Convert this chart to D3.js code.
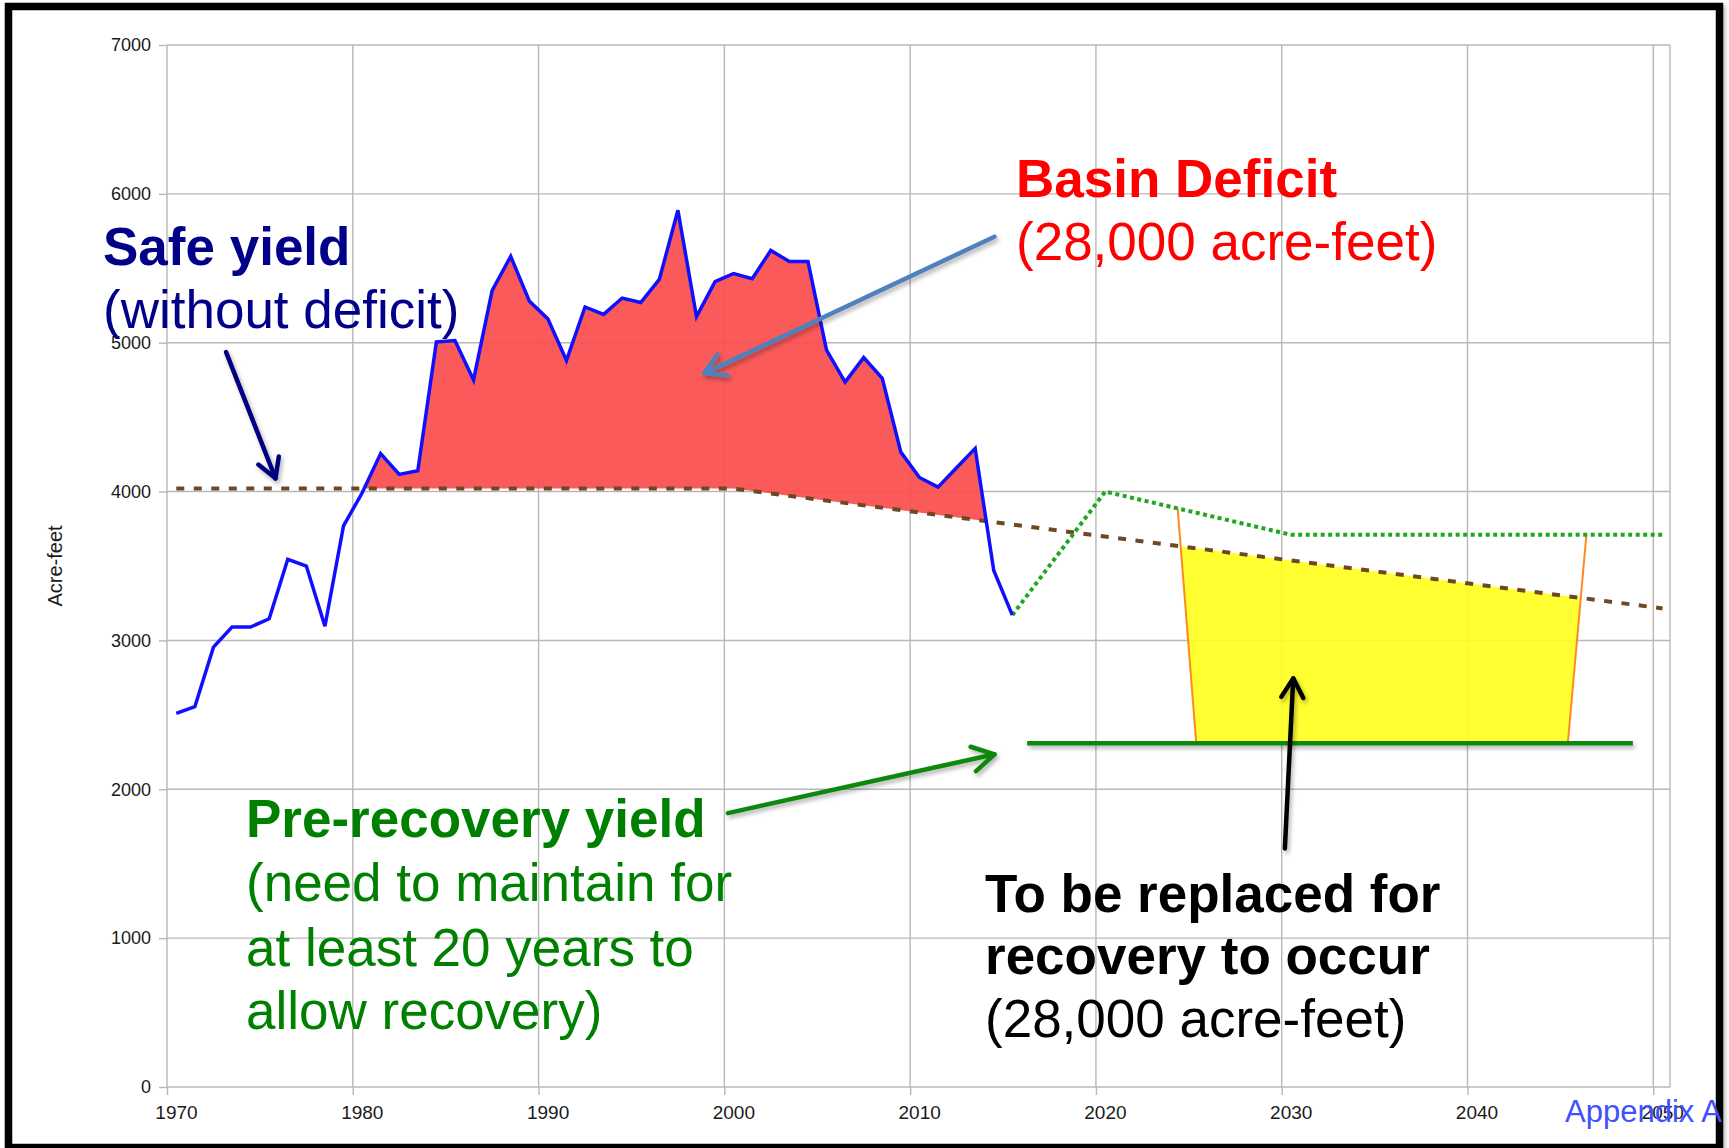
<!DOCTYPE html>
<html>
<head>
<meta charset="utf-8">
<style>
  body {
    margin: 0;
    background: #fff;
    font-family: "Liberation Sans", Arial, sans-serif;
  }
  svg { display: block; }
  .grid line {
    stroke: #b8b8b8;
    stroke-width: 1.4px;
  }
</style>
</head>
<body>
<svg width="1729" height="1148"></svg>
<script src="https://cdn.jsdelivr.net/npm/d3@7"></script>
<script>
// historical pumping, acre-feet (plotted at mid-year)
var histYears = [1970, 1971, 1972, 1973, 1974, 1975, 1976, 1977, 1978, 1979,
                 1980, 1981, 1982, 1983, 1984, 1985, 1986, 1987, 1988, 1989,
                 1990, 1991, 1992, 1993, 1994, 1995, 1996, 1997, 1998, 1999,
                 2000, 2001, 2002, 2003, 2004, 2005, 2006, 2007, 2008, 2009,
                 2010, 2011, 2012, 2013, 2014, 2015];
var histValues = [2510, 2555, 2955, 3090, 3090, 3145, 3545, 3500, 3095, 3770,
                  3990, 4255, 4115, 4140, 5005, 5015, 4750, 5350, 5580, 5280,
                  5160, 4880, 5240, 5190, 5300, 5270, 5425, 5890, 5175, 5410,
                  5465, 5430, 5620, 5545, 5545, 4950, 4735, 4900, 4760, 4265,
                  4095, 4030, 4160, 4290, 3470, 3170];

// safe yield (brown dashed)
var safeYears = [1970, 2000, 2050];
var safeValues = [4020, 4020, 3215];

// projected pumping (green dotted)
var projYears = [2015, 2020, 2030, 2050];
var projValues = [3170, 4000, 3710, 3710];

// pre-recovery yield (green solid)
var preYears = [2015.8, 2048.4];
var preValue = 2310;

// replacement zone edges: top year (on projection), safe-yield year, bottom year
var replaceLeft = [2023.9, 2024.1, 2024.9];
var replaceRight = [2045.9, 2045.55, 2044.9];

var xTicks = [1970, 1980, 1990, 2000, 2010, 2020, 2030, 2040, 2050];
var yTicks = [0, 1000, 2000, 3000, 4000, 5000, 6000, 7000];

var svg = d3.select("svg");

var x = d3.scaleLinear().domain([1970, 2050.9]).range([167, 1670]);
var y = d3.scaleLinear().domain([0, 7000]).range([1087, 45]);
var mid = 0.5;
function px(yr) { return x(yr + mid); }

var safeAt = d3.scaleLinear().domain(safeYears).range(safeValues);
var projAt = d3.scaleLinear().domain(projYears).range(projValues);

var defs = svg.append("defs");
var shadow = defs.append("filter").attr("id", "shadow")
    .attr("filterUnits", "userSpaceOnUse")
    .attr("x", 0).attr("y", 0).attr("width", 1729).attr("height", 1148);
shadow.append("feDropShadow").attr("dx", 2).attr("dy", 3).attr("stdDeviation", 2)
    .attr("flood-color", "#000").attr("flood-opacity", 0.3);

// frame
svg.append("rect")
    .attr("x", 8.5).attr("y", 6.5).attr("width", 1711).attr("height", 1141)
    .attr("fill", "#fff").attr("stroke", "#000").attr("stroke-width", 7.5)
    .attr("filter", "url(#shadow)");

// grid
var grid = svg.append("g").attr("class", "grid");
grid.selectAll(".h").data(yTicks).enter().append("line")
    .attr("x1", x(1970)).attr("x2", x.range()[1])
    .attr("y1", function(d) { return y(d); }).attr("y2", function(d) { return y(d); });
grid.selectAll(".v").data(xTicks.concat([x.domain()[1]])).enter().append("line")
    .attr("x1", function(d) { return x(d); }).attr("x2", function(d) { return x(d); })
    .attr("y1", y(0)).attr("y2", y(7000));

// axes
var yAxis = svg.append("g")
    .attr("transform", "translate(" + x(1970) + ",0)")
    .call(d3.axisLeft(y).tickValues(yTicks).tickSize(8).tickPadding(8).tickFormat(d3.format("d")));
yAxis.select(".domain").remove();
yAxis.attr("font-family", "'Liberation Sans', Arial, sans-serif").attr("font-size", 18);
yAxis.selectAll("line").attr("stroke", "#b8b8b8").attr("stroke-width", 1.4);
yAxis.selectAll("text").attr("fill", "#1a1a1a");

var xAxis = svg.append("g")
    .attr("transform", "translate(0," + y(0) + ")")
    .call(d3.axisBottom(x).tickValues(xTicks).tickSize(8).tickPadding(11).tickFormat(d3.format("d")));
xAxis.select(".domain").remove();
xAxis.attr("font-family", "'Liberation Sans', Arial, sans-serif").attr("font-size", 19);
xAxis.selectAll("line").attr("stroke", "#b8b8b8").attr("stroke-width", 1.4);
xAxis.selectAll("text").attr("fill", "#1a1a1a").attr("dx", 9);

svg.append("text")
    .attr("transform", "translate(62," + y(3500) + ") rotate(-90)")
    .attr("text-anchor", "middle")
    .attr("font-size", 20)
    .attr("fill", "#1a1a1a")
    .text("Acre-feet");

// basin deficit: area under history clipped to above safe yield
var hist = histYears.map(function(d, i) { return [d, histValues[i]]; });
var safe = safeYears.map(function(d, i) { return [d, safeValues[i]]; });
var proj = projYears.map(function(d, i) { return [d, projValues[i]]; });

defs.append("clipPath").attr("id", "aboveSafe")
  .append("path")
    .attr("d", d3.area()
        .x(function(d) { return px(d[0]); })
        .y0(y(7000))
        .y1(function(d) { return y(d[1]); })(safe));

svg.append("path")
    .attr("clip-path", "url(#aboveSafe)")
    .attr("fill", "rgb(250,78,78)")
    .attr("fill-opacity", 0.93)
    .attr("d", d3.area()
        .x(function(d) { return px(d[0]); })
        .y0(y(0))
        .y1(function(d) { return y(d[1]); })(hist));

// replacement zone (yellow)
var zone = [
  [replaceLeft[1], safeAt(replaceLeft[1])],
  [replaceRight[1], safeAt(replaceRight[1])],
  [replaceRight[2], preValue],
  [replaceLeft[2], preValue]
];
svg.append("path")
    .attr("fill", "rgb(255,255,27)")
    .attr("fill-opacity", 0.9)
    .attr("d", d3.line()
        .x(function(d) { return px(d[0]); })
        .y(function(d) { return y(d[1]); })(zone) + "Z");

[replaceLeft, replaceRight].forEach(function(e) {
  svg.append("line")
      .attr("x1", px(e[0])).attr("y1", y(projAt(e[0])))
      .attr("x2", px(e[2])).attr("y2", y(preValue))
      .attr("stroke", "#ff8a1c").attr("stroke-width", 2);
});

var line = d3.line()
    .x(function(d) { return px(d[0]); })
    .y(function(d) { return y(d[1]); });

// safe yield
svg.append("path")
    .attr("d", line(safe))
    .attr("fill", "none").attr("stroke", "#6f4722")
    .attr("stroke-width", 4).attr("stroke-dasharray", "8,9.5");

// projection
svg.append("path")
    .attr("d", line(proj))
    .attr("fill", "none").attr("stroke", "#1fa81f")
    .attr("stroke-width", 4).attr("stroke-dasharray", "4,3.5");

// history
svg.append("path")
    .attr("d", line(hist))
    .attr("fill", "none").attr("stroke", "#1010ff")
    .attr("stroke-width", 3.5).attr("stroke-linejoin", "miter");

// pre-recovery yield
svg.append("line")
    .attr("x1", px(preYears[0])).attr("x2", px(preYears[1]))
    .attr("y1", y(preValue)).attr("y2", y(preValue))
    .attr("stroke", "#0b870b").attr("stroke-width", 4.5)
    .attr("filter", "url(#shadow)");

// arrows (data coordinates)
function arrow(from, to, color, head) {
  var x1 = x(from[0]), y1 = y(from[1]), x2 = x(to[0]), y2 = y(to[1]);
  var a = Math.atan2(y2 - y1, x2 - x1), s = Math.PI / 6;
  var g = svg.append("g")
      .attr("filter", "url(#shadow)")
      .attr("fill", "none").attr("stroke", color).attr("stroke-width", 4.5)
      .attr("stroke-linecap", "round").attr("stroke-linejoin", "round");
  g.append("line").attr("x1", x1).attr("y1", y1).attr("x2", x2).attr("y2", y2);
  g.append("path").attr("d", d3.line()([
    [x2 - head * Math.cos(a - s), y2 - head * Math.sin(a - s)],
    [x2, y2],
    [x2 - head * Math.cos(a + s), y2 - head * Math.sin(a + s)]
  ]));
}
arrow([1973.18, 4937], [1975.84, 4089], "#00007f", 22);
arrow([2014.54, 5712], [1998.92, 4794], "#4f81bd", 23);
arrow([2000.19, 1840], [2014.54, 2235], "#0b870b", 25);
arrow([2030.17, 1603], [2030.62, 2745], "#000", 22);

// annotation text
var notes = [
  {t: "Safe yield", x: 103, y: 265, c: "#000088", b: true},
  {t: "(without deficit)", x: 103, y: 328, c: "#000088", b: false},
  {t: "Basin Deficit", x: 1016, y: 197, c: "#ff0000", b: true},
  {t: "(28,000 acre-feet)", x: 1016, y: 260, c: "#ff0000", b: false},
  {t: "Pre-recovery yield", x: 246, y: 837, c: "#008000", b: true},
  {t: "(need to maintain for", x: 246, y: 901, c: "#008000", b: false},
  {t: "at least 20 years to", x: 246, y: 966, c: "#008000", b: false},
  {t: "allow recovery)", x: 246, y: 1029, c: "#008000", b: false},
  {t: "To be replaced for", x: 985, y: 912, c: "#000", b: true},
  {t: "recovery to occur", x: 985, y: 974, c: "#000", b: true},
  {t: "(28,000 acre-feet)", x: 985, y: 1037, c: "#000", b: false}
];
svg.selectAll(".note").data(notes).enter().append("text")
    .attr("class", "note")
    .attr("x", function(d) { return d.x; })
    .attr("y", function(d) { return d.y; })
    .attr("fill", function(d) { return d.c; })
    .attr("font-size", 53)
    .attr("font-weight", function(d) { return d.b ? "bold" : "normal"; })
    .text(function(d) { return d.t; });

svg.append("text")
    .attr("x", 1565).attr("y", 1122)
    .attr("font-size", 31)
    .attr("fill", "#4050ff")
    .text("Appendix A");
</script>
</body>
</html>
